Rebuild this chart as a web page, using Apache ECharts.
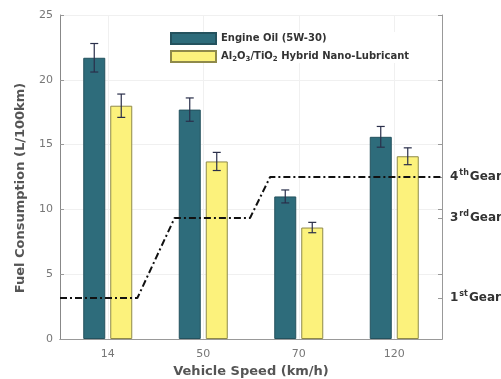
<!DOCTYPE html>
<html>
<head>
<meta charset="utf-8">
<script src="https://cdn.jsdelivr.net/npm/echarts@6/dist/echarts.min.js"></script>
<style>html,body{margin:0;padding:0;background:#fff}#c{width:501px;height:379px}</style>
</head>
<body>
<div id="c"></div>
<script>
const categories = ['14', '50', '70', '120'];
const engineOil = [21.7, 17.7, 11.0, 15.6];
const engineOilErr = [1.1, 0.9, 0.5, 0.8];
const nanoLub = [18.0, 13.7, 8.6, 14.1];
const nanoLubErr = [0.9, 0.7, 0.4, 0.65];
const gearLineX = [0, 0.81, 1.2, 1.99, 2.2, 4];
const gearLineY = [3.16, 3.16, 9.34, 9.34, 12.5, 12.5];
const gearLevels = [3.16, 9.34, 12.5];
const gearNum = ['1', '3', '4'];
const gearSup = ['st', 'rd', 'th'];
const yTicks = [0, 5, 10, 15, 20, 25];

const TEAL = '#2e6c7b', YELLOW = '#fcf27c';
const BAR_W = 22, GAP = 5;
const FONT = 'DejaVu Sans, sans-serif';

function errSeries(vals, errs, offset, color) {
  return {
    type: 'custom', xAxisIndex: 0, yAxisIndex: 0, z: 4,
    data: categories.map((c, i) => [i, vals[i], errs[i]]),
    renderItem: function (params, api) {
      const i = api.value(0), v = api.value(1), e = api.value(2);
      const top = api.coord([i, v + e]);
      const bot = api.coord([i, v - e]);
      const x = top[0] + offset;
      const hw = 4;
      return { type: 'group', children: [
        { type: 'line', shape: { x1: x, y1: top[1], x2: x, y2: bot[1] }, style: { stroke: color, lineWidth: 1.2 } },
        { type: 'line', shape: { x1: x - hw, y1: top[1], x2: x + hw, y2: top[1] }, style: { stroke: color, lineWidth: 1.2 } },
        { type: 'line', shape: { x1: x - hw, y1: bot[1], x2: x + hw, y2: bot[1] }, style: { stroke: color, lineWidth: 1.2 } }
      ]};
    }
  };
}

const chart = echarts.init(document.getElementById('c'));
chart.setOption({
  animation: false,
  textStyle: { fontFamily: FONT },
  grid: { left: 60, right: 59, top: 15, bottom: 40, containLabel: false, outerBoundsMode: 'none' },
  legend: {
    orient: 'vertical', left: 170, top: 32, itemWidth: 45, itemHeight: 11, itemGap: 5, padding: 0, z: 20,
    backgroundColor: '#fff', icon: 'rect',
    data: ['Engine Oil (5W-30)', 'Nano'],
    formatter: function (n) {
      return n === 'Nano' ? 'Al{sub|2}O{sub|3}/TiO{sub|2} Hybrid Nano-Lubricant' : n;
    },
    textStyle: { fontFamily: FONT, fontSize: 10, fontWeight: 'bold', color: '#333',
      rich: { sub: { fontFamily: FONT, fontSize: 7, fontWeight: 'bold', color: '#333', padding: [5, 0, 0, 0] } } }
  },
  xAxis: [
    { type: 'category', data: categories, position: 'bottom',
      axisLine: { lineStyle: { color: '#888' } },
      axisTick: { show: false },
      axisLabel: { color: '#777', fontSize: 11, margin: 10 },
      name: 'Vehicle Speed (km/h)', nameLocation: 'middle', nameGap: 26,
      nameTextStyle: { fontSize: 13, fontWeight: 'bold', color: '#555' } },
    { type: 'category', data: categories, position: 'top',
      axisLine: { lineStyle: { color: '#999' } },
      axisTick: { inside: true, alignWithLabel: true, length: 4, lineStyle: { color: '#999' } },
      axisLabel: { show: false } },
    { type: 'value', min: 0, max: 4, show: false }
  ],
  yAxis: [
    { type: 'value', min: 0, max: 25, interval: 5, position: 'left',
      axisLine: { show: true, lineStyle: { color: '#888' } },
      axisTick: { show: true, inside: true, length: 4, lineStyle: { color: '#999' } },
      axisLabel: { color: '#777', fontSize: 11, margin: 7 },
      splitLine: { show: true, lineStyle: { color: '#f0f0f0' } },
      name: 'Fuel Consumption (L/100km)', nameLocation: 'middle', nameGap: 33,
      nameTextStyle: { fontSize: 13, fontWeight: 'bold', color: '#555', padding: [0, 22, 0, 0] } },
    { type: 'value', min: 0, max: 25, position: 'right',
      axisLine: { show: true, lineStyle: { color: '#999' } },
      axisTick: { show: true, inside: true, length: 4, customValues: yTicks.concat(gearLevels), lineStyle: { color: '#999' } },
      splitLine: { show: false },
      axisLabel: { show: true, customValues: gearLevels, margin: 8,
        formatter: function (v) {
          const k = gearLevels.indexOf(v);
          return k < 0 ? '' : '{n|' + gearNum[k] + '}{s|' + gearSup[k] + '}{g|Gear}';
        },
        rich: {
          n: { fontFamily: FONT, fontSize: 12, fontWeight: 'bold', color: '#333' },
          s: { fontFamily: FONT, fontSize: 8, fontWeight: 'bold', color: '#333', padding: [0, 1, 8, 1] },
          g: { fontFamily: FONT, fontSize: 12, fontWeight: 'bold', color: '#333' }
        } } }
  ],
  series: [
    { type: 'line', xAxisIndex: 2, yAxisIndex: 0, data: [], z: 1, silent: true,
      markLine: { silent: true, symbol: 'none', label: { show: false },
        lineStyle: { color: '#f0f0f0', type: 'solid', width: 1 },
        data: categories.map((c, i) => ({ xAxis: i + 0.5 })) } },
    { name: 'Engine Oil (5W-30)', type: 'bar', data: engineOil, barWidth: BAR_W, barGap: (GAP / BAR_W * 100) + '%',
      itemStyle: { color: TEAL, borderColor: '#24525e', borderWidth: 1 } },
    { name: 'Nano', type: 'bar', data: nanoLub, barWidth: BAR_W,
      itemStyle: { color: YELLOW, borderColor: '#8f8a4a', borderWidth: 1 } },
    errSeries(engineOil, engineOilErr, -(BAR_W + GAP) / 2, '#2a2f4a'),
    errSeries(nanoLub, nanoLubErr, (BAR_W + GAP) / 2, '#2a2f4a'),
    { type: 'line', xAxisIndex: 2, yAxisIndex: 0, z: 6, showSymbol: false, silent: true,
      data: gearLineX.map((x, i) => [x, gearLineY[i]]),
      lineStyle: { color: '#111', width: 2, type: [7, 3, 2, 3] } }
  ]
});
</script>
</body>
</html>
